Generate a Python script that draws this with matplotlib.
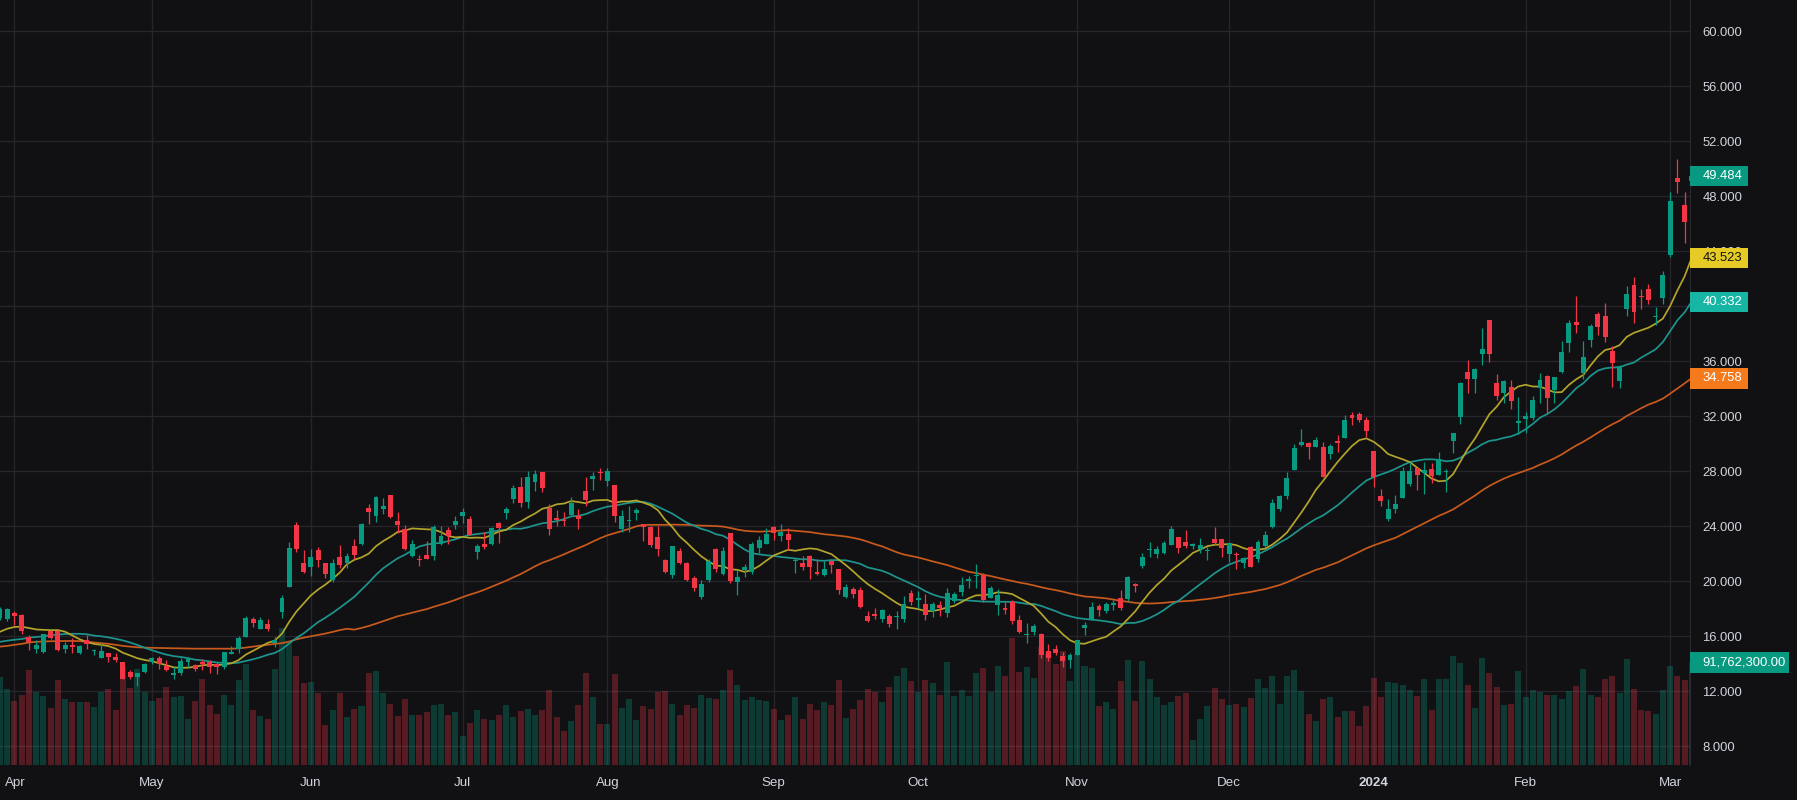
import numpy as np
import pandas as pd
import matplotlib
matplotlib.use('Agg')
import matplotlib.pyplot as plt
from matplotlib.patches import Rectangle
from matplotlib.transforms import blended_transform_factory

# daily candles, first bar = 2023-03-30
opens = [17.3, 17.25, 17.7, 17.55, 15.97, 15.1, 14.85, 16.4, 16.4, 15.05,
         15.4, 14.8, 15.7, 14.9, 14.42, 14.8, 14.5, 14.15, 13.4, 13.05,
         13.4, 14.15, 14.42, 13.85, 13.2, 13.35, 14.15, 13.9, 14.15, 14.1,
         13.95, 13.77, 14.73, 15.1, 15.97, 17.27, 16.55, 16.87, 15.5, 17.8,
         19.6, 24.1, 21.3, 21.07, 22.28, 21.3, 20.12, 21.77, 21.33, 22.55,
         22.72, 25.31, 24.78, 25.24, 26.25, 24.39, 23.78, 21.87, 21.58, 21.92,
         21.87, 22.69, 23.73, 24.1, 24.75, 24.53, 22.16, 22.72, 22.72, 24.22,
         24.99, 25.99, 26.86, 25.77, 27.25, 27.95, 25.33, 24.6, 24.46, 24.8,
         24.75, 26.57, 27.44, 27.95, 27.32, 27.0, 23.83, 24.39, 24.99, 24.17,
         23.93, 23.2, 21.55, 20.48, 22.21, 21.33, 20.27, 18.88, 20.12, 22.35,
         20.56, 23.52, 19.98, 20.82, 20.7, 22.45, 22.72, 23.95, 23.3, 23.44,
         21.45, 21.31, 21.84, 20.65, 20.46, 21.48, 20.9, 18.88, 19.44, 19.37,
         17.48, 17.65, 17.28, 17.48, 17.38, 17.28, 19.15, 18.62, 18.35, 17.87,
         18.28, 17.72, 18.59, 19.22, 20.0, 20.36, 20.48, 18.81, 18.3, 18.08,
         18.52, 17.19, 16.07, 16.32, 16.17, 14.91, 15.08, 14.57, 14.3, 14.67,
         16.63, 17.24, 18.21, 17.87, 18.3, 18.81, 18.74, 19.81, 21.14, 22.25,
         21.99, 22.06, 22.64, 23.2, 22.86, 22.59, 22.33, 22.18, 23.08, 23.08,
         21.99, 22.0, 21.31, 22.5, 21.65, 22.57, 23.98, 25.26, 26.21, 28.1,
         29.94, 30.04, 29.8, 29.77, 29.28, 30.18, 30.45, 32.1, 32.17, 31.73,
         29.48, 26.21, 24.53, 25.26, 26.06, 27.08, 28.24, 27.88, 28.17, 27.73,
         27.95, 30.23, 31.98, 35.2, 34.72, 36.56, 39.0, 34.42, 33.72, 34.11,
         31.49, 31.83, 31.9, 34.04, 34.91, 33.92, 35.25, 37.31, 38.84, 35.18,
         37.55, 39.44, 39.3, 36.75, 34.59, 39.83, 41.55, 40.7, 41.26, 39.2,
         40.63, 43.73, 49.33, 47.37, 49.1]
highs = [18.1, 18.05, 17.85, 17.6, 16.1, 15.75, 16.2, 16.45, 16.45, 15.6,
         15.9, 15.4, 16.1, 15.1, 15.55, 14.8, 14.75, 14.15, 13.55, 13.35,
         14.05, 14.5, 14.6, 14.3, 13.75, 14.4, 14.5, 13.95, 14.35, 14.25,
         14.1, 14.85, 15.3, 16.0, 17.5, 17.4, 17.4, 17.27, 15.95, 19.0,
         22.86, 24.3, 22.3, 22.35, 22.5, 21.3, 21.62, 22.64, 22.04, 23.08,
         24.24, 25.62, 26.23, 26.04, 26.28, 25.04, 24.07, 23.0, 21.92, 22.96,
         24.1, 24.02, 23.93, 24.75, 25.33, 24.75, 22.69, 23.56, 23.98, 24.32,
         25.43, 27.0, 27.61, 28.02, 28.1, 27.95, 25.62, 25.19, 25.04, 26.11,
         25.26, 27.59, 27.95, 28.24, 28.24, 27.0, 25.19, 25.48, 25.31, 24.17,
         24.02, 24.02, 21.62, 22.57, 22.4, 21.41, 20.39, 20.1, 21.62, 22.45,
         22.47, 23.52, 20.82, 21.26, 22.89, 23.3, 23.85, 24.02, 24.17, 23.85,
         21.67, 21.84, 21.92, 21.62, 21.5, 21.55, 20.9, 19.81, 19.56, 19.56,
         17.84, 18.06, 17.96, 17.6, 17.84, 18.93, 19.35, 19.3, 19.08, 18.52,
         18.57, 19.54, 19.25, 20.29, 20.41, 21.26, 20.58, 19.66, 19.44, 18.47,
         18.64, 17.55, 16.95, 16.9, 16.22, 15.44, 15.35, 14.86, 14.79, 15.76,
         17.07, 18.5, 18.35, 18.52, 18.64, 19.37, 20.36, 19.85, 22.06, 22.86,
         22.57, 22.93, 24.02, 23.2, 23.73, 22.76, 23.15, 22.52, 23.95, 23.08,
         22.86, 22.11, 21.79, 22.57, 23.0, 23.66, 25.99, 26.28, 27.93, 29.99,
         31.08, 30.16, 30.5, 30.11, 29.99, 30.64, 32.07, 32.29, 32.29, 31.93,
         29.48, 26.72, 25.99, 26.28, 28.29, 28.68, 28.24, 28.68, 28.58, 29.38,
         28.17, 30.8, 34.5, 36.1, 35.52, 38.42, 39.0, 35.05, 34.64, 34.64,
         33.41, 32.29, 33.46, 35.13, 34.98, 34.84, 37.48, 38.98, 40.75, 37.48,
         38.72, 39.56, 40.24, 37.14, 35.7, 41.5, 42.16, 41.26, 41.62, 39.98,
         42.57, 48.32, 50.72, 48.32, 49.6]
lows = [17.2, 17.1, 16.85, 16.2, 15.0, 14.75, 14.8, 15.8, 14.95, 14.75,
        14.75, 14.7, 15.05, 14.65, 14.42, 14.1, 14.1, 12.9, 12.9, 12.4,
        13.3, 14.0, 13.6, 13.5, 12.9, 13.15, 13.8, 13.45, 13.55, 13.33,
        13.25, 13.6, 14.73, 14.8, 15.97, 16.65, 16.55, 16.4, 15.2, 17.3,
        19.6, 22.15, 20.6, 20.4, 21.07, 20.27, 19.98, 20.97, 20.99, 21.62,
        22.64, 24.2, 24.34, 24.9, 24.63, 23.5, 22.28, 21.75, 21.14, 21.62,
        21.55, 22.64, 22.72, 23.78, 24.22, 23.37, 21.62, 22.35, 22.64, 22.81,
        24.56, 25.72, 25.43, 25.31, 26.59, 26.52, 23.39, 24.02, 24.02, 24.8,
        23.78, 25.5, 26.64, 27.37, 26.96, 24.34, 23.61, 23.61, 24.46, 22.96,
        22.52, 21.87, 20.63, 20.27, 21.26, 20.02, 19.32, 18.71, 19.98, 20.7,
        20.46, 19.86, 19.03, 20.34, 20.56, 22.04, 22.69, 23.01, 22.96, 22.28,
        20.63, 20.82, 20.2, 20.46, 20.39, 20.63, 19.1, 18.81, 18.76, 18.08,
        17.07, 17.26, 17.07, 16.68, 16.56, 17.04, 18.28, 18.08, 17.21, 17.41,
        17.5, 17.38, 18.4, 18.93, 19.49, 19.49, 18.5, 18.76, 17.55, 17.62,
        16.92, 16.24, 15.52, 16.12, 14.45, 14.21, 14.67, 13.77, 13.72, 14.67,
        16.12, 17.19, 17.46, 17.72, 17.92, 17.92, 18.59, 19.25, 21.0, 21.77,
        21.72, 21.99, 22.62, 22.09, 22.45, 22.33, 22.04, 21.55, 22.64, 21.79,
        21.43, 20.92, 20.97, 21.07, 21.43, 22.5, 23.9, 25.14, 25.96, 28.1,
        29.87, 28.9, 29.8, 27.59, 28.9, 29.43, 30.45, 31.37, 31.61, 30.52,
        26.88, 25.48, 24.41, 24.99, 26.06, 26.96, 26.64, 26.35, 27.17, 27.73,
        26.47, 29.36, 31.42, 33.72, 33.72, 35.76, 35.98, 33.19, 32.99, 32.56,
        30.69, 30.76, 31.73, 32.94, 32.22, 32.99, 35.13, 36.65, 38.08, 34.69,
        37.07, 37.92, 37.43, 34.16, 34.09, 39.32, 38.81, 39.83, 40.17, 38.64,
        40.17, 43.61, 48.27, 44.63, 48.9]
closes = [18.0, 18.0, 17.5, 16.4, 15.6, 15.4, 16.15, 15.9, 15.0, 15.4,
          15.25, 15.3, 15.45, 15.0, 14.93, 14.5, 14.3, 12.9, 13.05, 13.35,
          14.0, 14.42, 14.0, 13.55, 13.33, 14.2, 14.38, 13.65, 14.0, 13.8,
          13.75, 14.85, 14.85, 15.88, 17.33, 16.97, 17.17, 16.53, 15.75, 18.8,
          22.4, 22.35, 20.7, 21.75, 21.58, 20.56, 21.3, 21.21, 21.84, 21.92,
          24.17, 25.07, 26.11, 25.48, 24.68, 24.1, 22.35, 22.72, 21.52, 21.62,
          23.93, 23.27, 23.32, 24.41, 25.07, 23.37, 22.57, 22.47, 23.85, 23.88,
          25.24, 26.79, 25.72, 27.59, 27.83, 26.81, 23.83, 24.46, 24.41, 25.67,
          24.53, 25.92, 27.66, 27.9, 28.0, 24.75, 24.75, 24.46, 25.19, 23.98,
          22.64, 22.35, 20.68, 22.57, 21.31, 20.12, 19.54, 19.81, 21.5, 20.92,
          22.21, 20.05, 20.32, 21.04, 22.72, 23.01, 23.44, 23.54, 23.59, 23.01,
          21.48, 21.04, 21.07, 20.53, 20.87, 21.19, 19.39, 19.59, 19.1, 18.16,
          17.14, 17.5, 17.92, 16.92, 17.41, 18.35, 18.52, 18.79, 17.58, 18.33,
          18.08, 19.13, 19.05, 19.73, 20.17, 20.39, 18.64, 19.51, 19.0, 17.94,
          17.14, 16.32, 16.17, 16.75, 14.67, 14.45, 14.81, 14.23, 14.64, 15.71,
          16.82, 18.13, 17.92, 18.33, 18.45, 18.08, 20.29, 19.68, 21.77, 22.28,
          22.35, 22.79, 23.81, 22.45, 22.57, 22.69, 22.64, 22.21, 22.79, 22.45,
          22.76, 21.9, 21.67, 21.07, 22.86, 23.37, 25.7, 26.21, 27.49, 29.7,
          30.11, 29.77, 30.25, 27.59, 29.82, 30.08, 31.73, 31.9, 31.73, 30.96,
          27.61, 25.84, 25.26, 25.65, 28.0, 28.0, 27.73, 28.07, 27.66, 28.9,
          28.02, 30.76, 34.45, 34.72, 35.47, 36.9, 36.56, 33.5, 34.57, 33.09,
          31.66, 32.02, 33.19, 34.64, 33.36, 34.84, 36.68, 38.79, 38.62, 36.32,
          38.6, 38.52, 37.79, 35.9, 35.66, 40.9, 39.61, 40.66, 40.46, 39.3,
          42.28, 47.66, 49.07, 46.16, 49.484]
# volume in millions
volumes = [79, 68, 57, 63, 85, 65, 62, 51, 76, 59, 56, 56, 56, 52, 65, 68, 49, 88, 69, 86,
           65, 57, 60, 70, 61, 62, 41, 57, 77, 54, 46, 63, 54, 76, 90, 49, 44, 41, 86, 123,
           111, 98, 73, 74, 64, 36, 49, 64, 43, 50, 53, 82, 84, 64, 55, 44, 59, 45, 45, 47,
           54, 55, 45, 47, 26, 38, 49, 41, 40, 45, 54, 43, 48, 50, 45, 49, 67, 43, 30, 39,
           54, 82, 61, 37, 37, 81, 51, 59, 40, 53, 50, 65, 66, 55, 45, 54, 51, 63, 60, 59,
           67, 85, 72, 58, 61, 58, 57, 50, 40, 45, 61, 41, 55, 49, 56, 54, 76, 42, 50, 58,
           68, 65, 56, 70, 80, 87, 75, 65, 76, 73, 63, 92, 62, 67, 62, 82, 87, 65, 89, 80,
           114, 83, 88, 78, 106, 100, 90, 102, 75, 99, 89, 87, 53, 56, 50, 75, 94, 57, 93, 77,
           61, 54, 56, 62, 64, 22, 41, 53, 69, 59, 54, 55, 52, 60, 77, 69, 80, 55, 80, 85,
           66, 46, 39, 59, 61, 43, 48, 48, 35, 53, 78, 61, 74, 73, 72, 67, 62, 77, 49, 77,
           77, 98, 91, 72, 51, 96, 82, 70, 54, 55, 84, 61, 67, 65, 63, 63, 59, 66, 71, 86,
           63, 61, 77, 80, 64, 95, 68, 49, 48, 46, 67, 89, 80, 76, 91.7623]

ma10_head = [16.33, 16.55, 16.68, 16.7, 16.6, 16.5, 16.47, 16.45, 16.45]
ma20_head = [15.6, 15.68, 15.75, 15.8, 15.9, 15.95, 16.0, 16.08, 16.12, 16.17,
             16.18, 16.18, 16.15, 16.05, 16.0, 15.92, 15.82, 15.7, 15.55]
ma50_head = [15.25, 15.3, 15.38, 15.45, 15.55, 15.6, 15.62, 15.64, 15.65, 15.66,
             15.66, 15.65, 15.6, 15.55, 15.5, 15.45, 15.38, 15.3, 15.25, 15.2,
             15.18, 15.16, 15.15, 15.14, 15.13, 15.12, 15.11, 15.1, 15.1, 15.1,
             15.1, 15.1, 15.1, 15.12, 15.18, 15.25, 15.32, 15.38, 15.45, 15.5,
             15.62, 15.78, 15.9, 16.0, 16.1, 16.2, 16.32, 16.45, 16.55]

# values printed in the scale labels (SMA 10 / 20 / 50)
ma_last = [43.523, 40.332, 34.758]

holidays = ['2023-04-07', '2023-05-29', '2023-06-19', '2023-07-04', '2023-09-04',
            '2023-11-23', '2023-12-25', '2024-01-01', '2024-01-15', '2024-02-19']
dates = pd.bdate_range('2023-03-30', periods=len(closes), freq='C', holidays=holidays)

BG = '#111114'
GRID = '#25252a'
TXT = '#d1d4dc'
UP = '#089981'
DN = '#f23645'

o = np.array(opens); h = np.array(highs); l = np.array(lows); c = np.array(closes)
v = np.array(volumes)
x = np.arange(len(c))
up = c >= o
col = np.where(up, UP, DN)

cs = pd.Series(c)
def sma(n, head):
    m = cs.rolling(n).mean().to_numpy()
    m[:n - 1] = head
    return m
ma10 = sma(10, ma10_head)
ma20 = sma(20, ma20_head)
ma50 = sma(50, ma50_head)

W, H = 1797, 800
plot_w, plot_h, bottom_px = 1690, 765, 35
rect = [0, bottom_px / H, plot_w / W, plot_h / H]
pmin, pmax = 6.64, 62.276
ppu = plot_h / (pmax - pmin)
vmax = plot_h * 0.895

plt.rcParams['font.family'] = ['Liberation Sans', 'DejaVu Sans']
fig = plt.figure(figsize=(W / 100, H / 100), dpi=100, facecolor=BG)
ax_bg = fig.add_axes(rect)
ax_vol = fig.add_axes(rect, sharex=ax_bg)
ax = fig.add_axes(rect, sharex=ax_bg, sharey=ax_bg)
ax_bg.set_zorder(0); ax_vol.set_zorder(1); ax.set_zorder(2)
ax_bg.set_facecolor(BG)
for a in (ax_vol, ax):
    a.set_facecolor('none')
    a.axis('off')
for s in ax_bg.spines.values():
    s.set_visible(False)
ax_bg.spines['right'].set_visible(True)
ax_bg.spines['right'].set_color('#2a2a2e')

ax_bg.set_xlim(0, plot_w / 7.23)
ax_bg.set_ylim(pmin, pmax)
ax_vol.set_ylim(0, vmax)

# grid + price scale
month_idx = [i for i in range(1, len(dates)) if dates[i].month != dates[i - 1].month]
ax_bg.set_xticks(month_idx)
ax_bg.set_yticks(np.arange(8, 61, 4))
ax_bg.grid(True, color=GRID, linewidth=1)
ax_bg.yaxis.tick_right()
ax_bg.yaxis.set_major_formatter(lambda val, pos: f'{val:.3f}')
ax_bg.tick_params(axis='y', length=0, pad=9, labelcolor=TXT, labelsize=9.4)
ax_bg.tick_params(axis='x', length=0, labelbottom=False)

tr_x = blended_transform_factory(ax_bg.transData, ax_bg.transAxes)
for i in month_idx:
    d = dates[i]
    lab = str(d.year) if d.month == 1 else d.strftime('%b')
    if i == month_idx[0]:
        ax_bg.text(0.64, -18 / plot_h, lab, transform=tr_x, ha='left', va='center',
                   color=TXT, fontsize=9.6)
    else:
        ax_bg.text(i, -18 / plot_h, lab, transform=tr_x, ha='center', va='center',
                   color=TXT, fontsize=9.6, fontweight='bold' if d.month == 1 else 'normal')

# volume
vcol = np.where(up, UP, DN)
ax_vol.bar(x, v, width=0.83, color=vcol, alpha=0.3, linewidth=0)

# moving averages
ax.plot(x, ma50, color='#c95a1c', linewidth=1.25, zorder=2)
ax.plot(x, ma20, color='#1d958d', linewidth=1.25, zorder=2)
ax.plot(x, ma10, color='#b3a42b', linewidth=1.25, zorder=2)

# candles
ax.vlines(x, l, h, colors=col, linewidth=0.9, zorder=3)
body = np.maximum(np.abs(c - o), 0.075)
ax.bar(x, body, bottom=np.minimum(o, c), width=0.68, color=col, linewidth=0, zorder=4)

# last-value labels on the price scale
def tag(axis, val, text, face, fg, box_w, unit):
    tr = blended_transform_factory(axis.transAxes, axis.transData)
    hh = 20.4 / unit
    axis.add_patch(Rectangle((1.0, val - hh / 2), box_w / plot_w, hh, transform=tr,
                             facecolor=face, edgecolor='none', clip_on=False, zorder=10))
    axis.text(1.0 + 12.7 / plot_w, val, text, transform=tr, ha='left', va='center',
              color=fg, fontsize=9.4, clip_on=False, zorder=11)

tag(ax, c[-1], f'{c[-1]:.3f}', UP, 'white', 57.7, ppu)
tag(ax, ma_last[0], f'{ma_last[0]:.3f}', '#e6cb27', '#131313', 57.7, ppu)
tag(ax, ma_last[1], f'{ma_last[1]:.3f}', '#17b5a3', 'white', 57.7, ppu)
tag(ax, ma_last[2], f'{ma_last[2]:.3f}', '#f57a1b', 'white', 57.7, ppu)
tag(ax_vol, v[-1], f'{v[-1] * 1e6:,.2f}', UP, 'white', 99, plot_h / vmax)

fig.savefig('out.png', dpi=100, facecolor=BG)
